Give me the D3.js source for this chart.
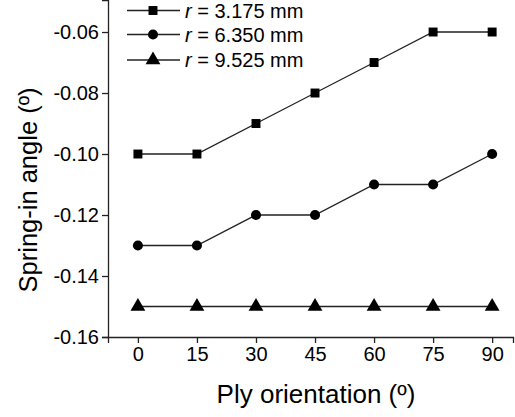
<!DOCTYPE html>
<html><head><meta charset="utf-8">
<script src="https://cdn.jsdelivr.net/npm/d3@7"></script>
<style>body{margin:0;background:#fff;}svg{display:block;font-family:Arial,"Liberation Sans",sans-serif;}</style>
</head><body>
<script>
const orientations = [0, 15, 30, 45, 60, 75, 90];
const r3175 = [-0.10, -0.10, -0.09, -0.08, -0.07, -0.06, -0.06];
const r6350 = [-0.13, -0.13, -0.12, -0.12, -0.11, -0.11, -0.10];
const r9525 = [-0.15, -0.15, -0.15, -0.15, -0.15, -0.15, -0.15];
const seriesNames = ["3.175 mm", "6.350 mm", "9.525 mm"];
const symbols = [d3.symbolSquare, d3.symbolCircle, d3.symbolTriangle];
const yTicks = [-0.16, -0.14, -0.12, -0.10, -0.08, -0.06];
const series = [r3175, r6350, r9525];

const W = 515, H = 417;
const svg = d3.select("body").append("svg").attr("width", W).attr("height", H);
const x = d3.scaleLinear().domain([-7.6, 95.3]).range([108, 513]);
const y = d3.scaleLinear().domain([-0.16, -0.0495]).range([337, 0]);

const lineColor = "#222";
// axes
const xAxis = svg.append("g").attr("transform", "translate(0,337)")
  .call(d3.axisBottom(x).tickValues(orientations).tickSizeOuter(0).tickSize(6).tickPadding(4));
const yAxis = svg.append("g").attr("transform", "translate(108,0)")
  .call(d3.axisLeft(y).tickValues(yTicks).tickSizeOuter(0).tickSize(6).tickPadding(3)
    .tickFormat(d3.format(".2f")));
[xAxis, yAxis].forEach(g => {
  g.selectAll("path.domain").attr("stroke", lineColor).attr("stroke-width", 1.3);
  g.selectAll(".tick line").attr("stroke", lineColor).attr("stroke-width", 1.3);
  g.selectAll(".tick text").attr("fill", "#000").style("font-size", "20px")
    .style("font-family", "Arial, 'Liberation Sans', sans-serif");
});
yAxis.selectAll(".tick text").text(d => d3.format(".2f")(d).replace("−", "-"));

// lines and markers
const line = d3.line().x((d, i) => x(orientations[i])).y(d => y(d));
const sizes = [80, 80, 95];
series.forEach((vals, si) => {
  svg.append("path").datum(vals).attr("d", line)
    .attr("fill", "none").attr("stroke", lineColor).attr("stroke-width", 1.3);
  svg.selectAll(null).data(vals).enter().append("path")
    .attr("d", d3.symbol().type(symbols[si]).size(sizes[si]))
    .attr("transform", (d, i) => `translate(${x(orientations[i])},${y(d)})`)
    .attr("fill", "#000");
});

// legend
const legY = [10.5, 34.5, 60];
seriesNames.forEach((name, i) => {
  const g = svg.append("g").attr("transform", `translate(0,${legY[i]})`);
  g.append("line").attr("x1", 127).attr("x2", 180).attr("y1", 0).attr("y2", 0)
    .attr("stroke", lineColor).attr("stroke-width", 1.3);
  g.append("path").attr("d", d3.symbol().type(symbols[i]).size(sizes[i]))
    .attr("transform", "translate(153,0)").attr("fill", "#000");
  const t = g.append("text").attr("x", 185).attr("y", 7).style("font-size", "20px").attr("fill", "#000");
  t.append("tspan").style("font-style", "italic").text("r");
  t.append("tspan").text(" = " + name);
});

// axis titles
svg.append("text").attr("x", 316).attr("y", 403).attr("text-anchor", "middle")
  .style("font-size", "26px").text("Ply orientation (º)");
svg.append("text").attr("transform", "translate(37,190) rotate(-90)").attr("text-anchor", "middle")
  .style("font-size", "25.5px").text("Spring-in angle (º)");
</script>
</body></html>
